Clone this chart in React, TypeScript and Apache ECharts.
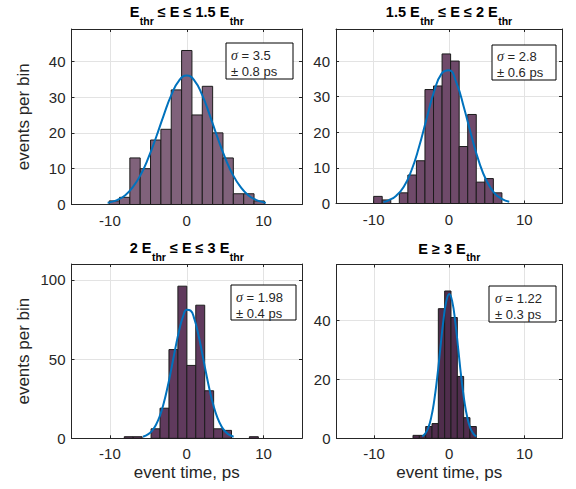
import React, { useEffect, useRef } from 'react';
import * as echarts from 'echarts';

// ---------- data ----------
const xTicks = [-10, 0, 10];
const yTicks1 = [0, 10, 20, 30, 40];
const yTicks2 = [0, 10, 20, 30, 40];
const yTicks3 = [0, 50, 100];
const yTicks4 = [0, 20, 40];
const yMax = [49, 49, 110, 59];

// histogram bins: first edge, bin width, counts
const binStart = [-10.1, -10.0, -8.13, -4.82];
const binWidth = [1.347, 1.135, 1.163, 0.842];
const counts1 = [1, 2, 13, 10, 18, 21, 32, 43, 25, 33, 20, 13, 3, 3, 1];
const counts2 = [2, 1, 0, 3, 8, 12, 32, 33, 42, 40, 16, 25, 6, 7, 3];
const counts3 = [1, 1, 0, 6, 19, 56, 96, 46, 84, 30, 6, 5, 0, 0, 1];
const counts4 = [1, 1, 4, 5, 44, 50, 41, 21, 7, 4];

// fitted curves, points
const curveX1 = [-10.3, -10, -9, -8, -7, -6, -5, -4, -3, -2, -1, 0, 1, 2, 3, 4, 5, 6, 7, 8, 9, 10, 10.3];
const curveY1 = [0.5, 0.6, 1.3, 2.6, 4.9, 8.3, 13.0, 18.7, 24.9, 30.6, 34.6, 36.0, 34.6, 30.6, 24.9, 18.7, 13.0, 8.3, 4.9, 2.6, 1.3, 0.6, 0.5];
const curveX2 = [-8.7, -8, -7, -6, -5, -4, -3, -2, -1, 0, 1, 2, 3, 4, 5, 6, 7, 8];
const curveY2 = [0.4, 0.9, 2.2, 4.7, 9.2, 15.7, 23.6, 31.3, 36.4, 37.4, 33.8, 26.8, 18.8, 11.6, 6.3, 3.0, 1.3, 0.5];
const curveX3 = [-5.7, -5, -4.5, -4, -3.5, -3, -2.5, -2, -1.5, -1, -0.5, 0, 0.5, 1, 1.5, 2, 2.5, 3, 3.5, 4, 4.5, 5, 5.5, 6.1];
const curveY3 = [1.0, 2.6, 4.9, 8.6, 14.2, 22.1, 32.2, 44.0, 56.4, 67.8, 76.6, 81.1, 80.6, 75.1, 65.7, 53.9, 41.5, 30.0, 20.3, 12.9, 7.7, 4.3, 2.3, 1.0];
const curveX4 = [-3.6, -3.2, -2.8, -2.4, -2.0, -1.6, -1.2, -0.8, -0.4, 0, 0.4, 0.8, 1.2, 1.6, 2.0, 2.4, 2.8, 3.2, 3.6];
const curveY4 = [0.6, 1.6, 3.5, 7.1, 12.8, 20.7, 30.2, 39.5, 46.4, 49.0, 46.4, 39.5, 30.2, 20.7, 12.8, 7.1, 3.5, 1.6, 0.6];

const sigmaValues = ['3.5', '2.8', '1.98', '1.22'];
const sigmaErrors = ['0.8', '0.6', '0.4', '0.3'];
const titleTexts = [
  '{m|E}{s|thr}{m| ≤ E ≤ 1.5 E}{s|thr}',
  '{m|1.5 E}{s|thr}{m| ≤ E ≤ 2 E}{s|thr}',
  '{m|2 E}{s|thr}{m| ≤ E ≤ 3 E}{s|thr}',
  '{m|E ≥ 3 E}{s|thr}',
];
const yAxisName = 'events per bin';
const xAxisName = 'event time, ps';

// ---------- styles / layout ----------
const FONT = "'Liberation Sans', Arial, Helvetica, sans-serif";
const AX = '#262626';
const GRIDC = '#e3e3e3';
const CURVE = '#0072BD';
const barColors = ['#80627b', '#6f4a6a', '#603a5d', '#4f2d4c'];

const grids = [
  { left: 71.5, top: 29, width: 230.5, height: 175.5 },
  { left: 336, top: 29, width: 226, height: 174.5 },
  { left: 71.5, top: 264, width: 230.5, height: 174.3 },
  { left: 336.5, top: 264.5, width: 225.5, height: 173.8 },
];
const boxes = [
  { x: 226, y: 43, w: 67, h: 36, tx: 231, ty: 47 },
  { x: 492, y: 45, w: 64, h: 35, tx: 497, ty: 48.5 },
  { x: 231, y: 285, w: 65, h: 35, tx: 236, ty: 289 },
  { x: 489, y: 286, w: 67, h: 36, tx: 495, ty: 290 },
];
const titlePos = [
  { x: 186.75, y: 4.5 },
  { x: 449, y: 4.5 },
  { x: 186.75, y: 240.5 },
  { x: 449.25, y: 241 },
];

export default function App() {
  const ref = useRef<HTMLDivElement>(null);

  useEffect(() => {
    if (!ref.current) return;
    const chart = echarts.init(ref.current, undefined, { renderer: 'svg' });

    const countsAll = [counts1, counts2, counts3, counts4];
    const curvesX = [curveX1, curveX2, curveX3, curveX4];
    const curvesY = [curveY1, curveY2, curveY3, curveY4];
    const yTicksAll = [yTicks1, yTicks2, yTicks3, yTicks4];

    const xAxes: any[] = [];
    const yAxes: any[] = [];
    const series: any[] = [];

    for (let i = 0; i < 4; i++) {
      const bottomRow = i >= 2;
      const leftCol = i % 2 === 0;
      xAxes.push({
        type: 'value', gridIndex: i, min: -15, max: 15, position: 'bottom',
        axisLine: { show: true, onZero: false, lineStyle: { color: AX, width: 1 } },
        axisTick: { show: true, inside: true, length: 3, customValues: xTicks, lineStyle: { color: AX } },
        axisLabel: { show: true, customValues: xTicks, color: AX, fontSize: 15, fontFamily: FONT, margin: 8 },
        splitLine: { show: true, lineStyle: { color: GRIDC, width: 1 } },
        name: bottomRow ? xAxisName : '',
        nameLocation: 'middle', nameGap: 26,
        nameTextStyle: { color: AX, fontSize: 17, fontFamily: FONT },
      });
      xAxes.push({
        type: 'value', gridIndex: i, min: -15, max: 15, position: 'top',
        axisLine: { show: true, onZero: false, lineStyle: { color: AX, width: 1 } },
        axisTick: { show: true, inside: true, length: 3, customValues: xTicks, lineStyle: { color: AX } },
        axisLabel: { show: false },
        splitLine: { show: false },
      });
      yAxes.push({
        type: 'value', gridIndex: i, min: 0, max: yMax[i], position: 'left',
        axisLine: { show: true, onZero: false, lineStyle: { color: AX, width: 1 } },
        axisTick: { show: true, inside: true, length: 3, customValues: yTicksAll[i], lineStyle: { color: AX } },
        axisLabel: { show: true, customValues: yTicksAll[i], color: AX, fontSize: 15, fontFamily: FONT, margin: 6 },
        splitLine: { show: true, lineStyle: { color: GRIDC, width: 1 } },
        name: leftCol ? yAxisName : '',
        nameLocation: 'middle', nameGap: 40,
        nameTextStyle: { color: AX, fontSize: 17, fontFamily: FONT },
      });
      yAxes.push({
        type: 'value', gridIndex: i, min: 0, max: yMax[i], position: 'right',
        axisLine: { show: true, onZero: false, lineStyle: { color: AX, width: 1 } },
        axisTick: { show: true, inside: true, length: 3, customValues: yTicksAll[i], lineStyle: { color: AX } },
        axisLabel: { show: false },
        splitLine: { show: false },
      });

      const start = binStart[i];
      const w = binWidth[i];
      const color = barColors[i];
      const data = countsAll[i]
        .map((c, k) => [start + k * w, start + (k + 1) * w, c])
        .filter((d) => d[2] > 0);
      series.push({
        type: 'custom',
        xAxisIndex: 2 * i,
        yAxisIndex: 2 * i,
        data,
        encode: { x: [0, 1], y: 2 },
        renderItem: (_params: any, api: any) => {
          const tl = api.coord([api.value(0), api.value(2)]);
          const br = api.coord([api.value(1), 0]);
          return {
            type: 'rect',
            shape: { x: tl[0], y: tl[1], width: br[0] - tl[0], height: br[1] - tl[1] },
            style: { fill: color, stroke: '#1c1c1c', lineWidth: 1 },
          };
        },
        z: 2,
      });
      series.push({
        type: 'line',
        xAxisIndex: 2 * i,
        yAxisIndex: 2 * i,
        data: curvesX[i].map((x, k) => [x, curvesY[i][k]]),
        showSymbol: false,
        symbol: 'none',
        smooth: true,
        lineStyle: { color: CURVE, width: 2 },
        z: 3,
      });
    }

    const graphics: any[] = [];
    for (let i = 0; i < 4; i++) {
      graphics.push({
        type: 'text',
        x: titlePos[i].x,
        y: titlePos[i].y,
        style: {
          text: titleTexts[i],
          align: 'center', textAlign: 'center',
          verticalAlign: 'top', textVerticalAlign: 'top',
          fill: '#000',
          rich: {
            m: { fontSize: 14.5, fontWeight: 'bold', fontFamily: FONT, lineHeight: 16, verticalAlign: 'top', fill: '#000', color: '#000' },
            s: { fontSize: 10.5, fontWeight: 'bold', fontFamily: FONT, lineHeight: 10, verticalAlign: 'top', padding: [10.5, 0, 0, 0.5], fill: '#000', color: '#000' },
          },
        },
        z: 10,
      });
      const b = boxes[i];
      graphics.push({
        type: 'rect',
        shape: { x: b.x, y: b.y, width: b.w, height: b.h },
        style: { fill: '#ffffff', stroke: '#000000', lineWidth: 1 },
        z: 10,
      });
      graphics.push({
        type: 'text',
        x: b.tx,
        y: b.ty,
        style: {
          text: '{g|σ} = ' + sigmaValues[i] + '\n± ' + sigmaErrors[i] + ' ps',
          align: 'left', textAlign: 'left',
          verticalAlign: 'top', textVerticalAlign: 'top',
          fontSize: 13, fontFamily: FONT, lineHeight: 16,
          fill: '#262626',
          rich: {
            g: { fontStyle: 'italic', fontFamily: "'Liberation Serif', 'Times New Roman', serif", fontSize: 14, lineHeight: 16 },
          },
        },
        z: 11,
      });
    }

    chart.setOption({
      animation: false,
      backgroundColor: '#ffffff',
      grid: grids.map((g) => ({ ...g, containLabel: false })),
      xAxis: xAxes,
      yAxis: yAxes,
      series,
      graphic: graphics,
    });

    return () => {
      chart.dispose();
    };
  }, []);

  return (
    <div
      ref={ref}
      style={{ position: 'fixed', left: 0, top: 0, width: 576, height: 489, background: '#fff' }}
    />
  );
}
